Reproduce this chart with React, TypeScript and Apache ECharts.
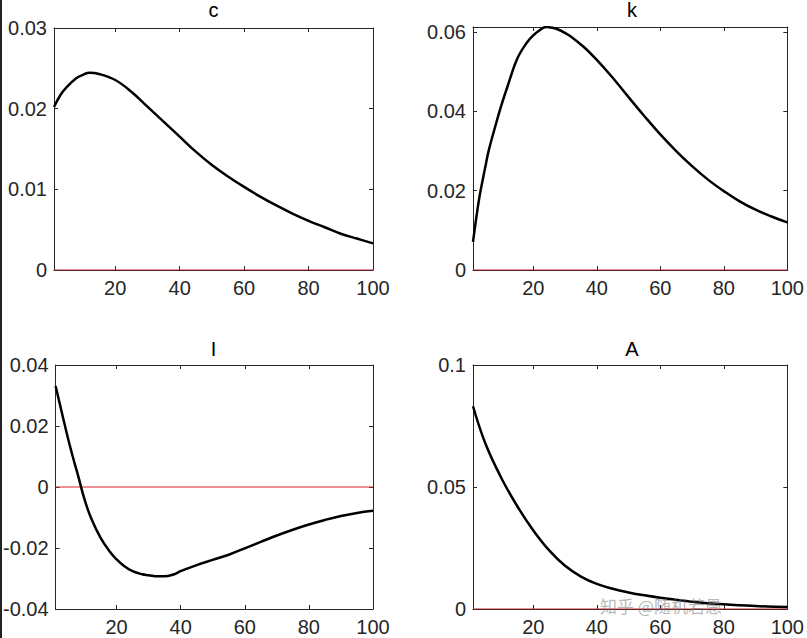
import React, { useEffect, useRef } from "react";
import * as echarts from "echarts";

const titles = ["c", "k", "I", "A"];

const cT = [1, 3, 5, 8, 10, 12, 15, 20, 25, 30, 35, 40, 45, 50, 55, 60, 65, 70, 75, 80, 85, 90, 95, 100];
const cV = [0.0202, 0.0217, 0.0227, 0.0238, 0.0242, 0.02446, 0.0243, 0.02355, 0.0221, 0.02025, 0.0184, 0.01653, 0.01467, 0.01302, 0.0116, 0.0103, 0.0091, 0.008, 0.007, 0.0061, 0.0053, 0.0045, 0.0039, 0.0033];

const kT = [1, 2, 3, 4, 5, 6, 8, 10, 12, 15, 18, 20, 22, 24, 26, 28, 30, 32, 36, 40, 45, 50, 55, 60, 65, 70, 75, 80, 85, 90, 95, 100];
const kV = [0.0071, 0.013, 0.0183, 0.0225, 0.0265, 0.0303, 0.0362, 0.0417, 0.0466, 0.0534, 0.0574, 0.0592, 0.0605, 0.0613, 0.0611, 0.0606, 0.0598, 0.0588, 0.0562, 0.053, 0.0485, 0.0436, 0.0388, 0.0342, 0.03, 0.0262, 0.0228, 0.0199, 0.0173, 0.0152, 0.0135, 0.012];

const iT = [1, 3, 5, 7, 8, 10, 12, 15, 18, 20, 22, 25, 28, 30, 33, 35, 38, 40, 45, 50, 55, 60, 65, 70, 75, 80, 85, 90, 95, 100];
const iV = [0.0331, 0.0242, 0.0154, 0.0075, 0.0038, -0.004, -0.01, -0.0166, -0.0213, -0.0237, -0.0256, -0.0276, -0.0286, -0.0289, -0.0293, -0.0293, -0.0286, -0.0276, -0.0256, -0.0239, -0.0222, -0.0201, -0.018, -0.0159, -0.014, -0.0123, -0.0108, -0.0095, -0.0085, -0.0078];

const aT = [1, 5, 10, 15, 20, 25, 30, 35, 40, 45, 50, 55, 60, 70, 80, 90, 100];
const aV = [0.0831, 0.0675, 0.0535, 0.042, 0.0322, 0.024, 0.0177, 0.0133, 0.0103, 0.0083, 0.0068, 0.0056, 0.0046, 0.003, 0.0019, 0.0012, 0.0008];

const xTicks = [20, 40, 60, 80, 100];
const yTicks = [
  [0, 0.01, 0.02, 0.03],
  [0, 0.02, 0.04, 0.06],
  [-0.04, -0.02, 0, 0.02, 0.04],
  [0, 0.05, 0.1],
];
const yMin = [0, 0, -0.04, 0];
const yMax = [0.03, 0.0613, 0.04, 0.1];
const zeroLineT = [1, 100];
const zeroLineV = [0, 0];

const FONT = "'Liberation Sans', Arial, sans-serif";
const AXIS = "#262626";

export default function App() {
  const ref = useRef<HTMLDivElement>(null);
  useEffect(() => {
    if (!ref.current) return;
    const chart = echarts.init(ref.current, null, { renderer: "svg" });
    const grids = [
      { left: 54, top: 28, width: 319, height: 242 },
      { left: 473, top: 27, width: 318, height: 243 },
      { left: 54, top: 365, width: 319, height: 244 },
      { left: 473, top: 365, width: 318, height: 244 },
    ];
    const curves = [
      [cT, cV],
      [kT, kV],
      [iT, iV],
      [aT, aV],
    ];
    const xAxis: any[] = [];
    const yAxis: any[] = [];
    const series: any[] = [];
    const title: any[] = [];
    grids.forEach((g, i) => {
      const common = {
        type: "value",
        gridIndex: i,
        axisLine: { show: true, onZero: false, lineStyle: { color: AXIS, width: 1 } },
        splitLine: { show: false },
      };
      xAxis.push({
        ...common,
        position: "bottom",
        min: 1,
        max: 100,
        axisTick: { show: true, inside: true, length: 4, customValues: xTicks, lineStyle: { color: AXIS } },
        axisLabel: { show: true, customValues: xTicks, margin: 8, fontSize: 20, color: AXIS, fontFamily: FONT },
      });
      xAxis.push({
        ...common,
        position: "top",
        min: 1,
        max: 100,
        axisTick: { show: true, inside: true, length: 4, customValues: xTicks, lineStyle: { color: AXIS } },
        axisLabel: { show: false },
      });
      yAxis.push({
        ...common,
        position: "left",
        min: yMin[i],
        max: yMax[i],
        axisTick: { show: true, inside: true, length: 4, customValues: yTicks[i], lineStyle: { color: AXIS } },
        axisLabel: { show: true, customValues: yTicks[i], margin: 7, fontSize: 20, color: AXIS, fontFamily: FONT },
      });
      yAxis.push({
        ...common,
        position: "right",
        min: yMin[i],
        max: yMax[i],
        axisTick: { show: true, inside: true, length: 4, customValues: yTicks[i], lineStyle: { color: AXIS } },
        axisLabel: { show: false },
      });
      series.push({
        type: "line",
        xAxisIndex: i * 2,
        yAxisIndex: i * 2,
        data: zeroLineT.map((t, j) => [t, zeroLineV[j]]),
        symbol: "none",
        lineStyle: { color: "#d8222a", width: 1 },
        z: 3,
      });
      const [ts, vs] = curves[i];
      series.push({
        type: "line",
        xAxisIndex: i * 2,
        yAxisIndex: i * 2,
        data: ts.map((t, j) => [t, vs[j]]),
        symbol: "none",
        smooth: 0.4,
        lineStyle: { color: "#000", width: 2.5 },
        z: 4,
      });
      title.push({
        text: titles[i],
        left: g.left + g.width / 2,
        top: i < 2 ? 0 : 339,
        textAlign: "center",
        padding: 0,
        textStyle: { fontSize: 20, fontWeight: "normal", color: "#000", fontFamily: FONT },
      });
    });
    chart.setOption({
      animation: false,
      backgroundColor: "#fff",
      title,
      grid: grids.map((g) => ({ ...g, containLabel: false })),
      xAxis,
      yAxis,
      series,
      graphic: [
        { type: "line", shape: { x1: 1, y1: 0, x2: 1, y2: 638 }, style: { stroke: "#222", lineWidth: 2 } },
        {
          type: "text",
          x: 600,
          y: 597,
          style: { text: "知乎 @随机若愚", fontSize: 17, fill: "rgba(120,120,120,0.55)", fontFamily: "'Noto Sans CJK SC', sans-serif" },
          z: 10,
        },
      ],
    });
    return () => chart.dispose();
  }, []);
  return (
    <div
      ref={ref}
      style={{ position: "fixed", left: 0, top: 0, width: 807, height: 638, background: "#fff" }}
    />
  );
}
